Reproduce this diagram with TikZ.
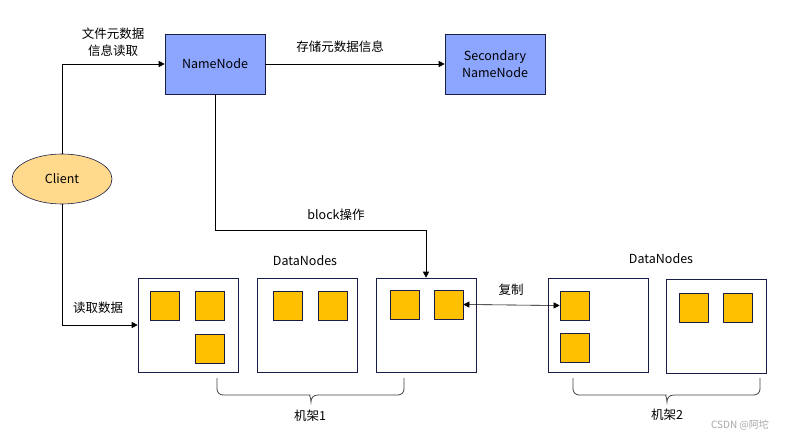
\documentclass[tikz,border=0pt]{standalone}
\usepackage{fontspec}
\setmainfont{Noto Sans CJK SC}
\usepackage{xcolor}
\usepackage{tikz}
\usetikzlibrary{arrows.meta,shapes,positioning,calc}
\definecolor{nnblue}{RGB}{140,165,255}
\definecolor{clientyel}{RGB}{255,217,140}
\definecolor{blockyel}{RGB}{255,192,0}
\definecolor{edgenavy}{RGB}{25,28,70}
\tikzset{
  namebox/.style={draw=edgenavy,fill=nnblue,minimum width=100pt,minimum height=60pt,inner sep=0pt,align=center,font=\fontsize{12.5}{17}\selectfont},
  dnbox/.style={draw=edgenavy,fill=white,minimum width=100pt,minimum height=94pt,inner sep=0pt},
  blk/.style={draw=edgenavy,fill=blockyel,minimum width=29pt,minimum height=29pt,inner sep=0pt},
  lbl/.style={font=\fontsize{12.5}{17}\selectfont,align=center,inner sep=0pt},
  arr/.style={-{Triangle[length=6pt,width=6pt]}},
  rack/.style={draw=black!75,line width=0.8pt}
}
\begin{document}
\begin{tikzpicture}[x=1pt,y=-1pt,line width=0.6pt]
\useasboundingbox (0,0) rectangle (796,441);
% name nodes and client
\node[namebox] (nn) at (215,64) {NameNode}; \node[namebox] (snn) at (495,64) {Secondary\\NameNode};
\node[ellipse,draw=edgenavy,fill=clientyel,minimum width=100pt,minimum height=50pt,inner sep=0pt,font=\fontsize{12.5}{17}\selectfont] (client) at (62,179) {Client};
% data nodes
\node[dnbox] (dn1) at (188,325) {}; \node[dnbox] (dn2) at (307.5,325) {}; \node[dnbox] (dn3) at (426,325) {};
\node[dnbox] (dn4) at (598,325) {}; \node[dnbox] (dn5) at (716,326) {};
% blocks
\node[blk] (b11) at (164.5,305.5) {}; \node[blk] (b12) at (209.5,305.5) {}; \node[blk] (b13) at (209.5,348.5) {};
\node[blk] (b21) at (287.5,305.5) {}; \node[blk] (b22) at (332.5,305.5) {};
\node[blk] (b31) at (404.5,304.5) {}; \node[blk] (b32) at (448.5,304.5) {};
\node[blk] (b41) at (574.5,305.5) {}; \node[blk] (b42) at (574.5,347.5) {};
\node[blk] (b51) at (693.5,307.5) {}; \node[blk] (b52) at (737.5,307.5) {};
% connectors
\coordinate (bend) at (426,230);
\draw[arr] (client.north) |- (nn.west); \draw[arr] (nn.east) -- (snn.west);
\draw[arr] (nn.south) |- (bend) -- (dn3.north);
\draw[arr] (client.south) |- (dn1.west);
\draw[{Triangle[length=6pt,width=6pt]}-{Triangle[length=6pt,width=6pt]}] (b32.east) -- (b41.west);
% labels
\node[lbl] (lread) at (113,42) {文件元数据\\信息读取}; \node[lbl] (lstore) at (340,47) {存储元数据信息};
\node[lbl] (lblock) at (336,215) {block操作}; \node[lbl] (lget) at (98,308) {读取数据};
\node[lbl] (lcopy) at (511,290) {复制};
\node[lbl] (ldn1) at (305,261) {DataNodes}; \node[lbl] (ldn2) at (661,259) {DataNodes};
% racks
\draw[rack] (217,378) [rounded corners=6pt] |- (304,395) [sharp corners] .. controls (309,395) and (311,398) .. (311,402) .. controls (311,398) and (313,395) .. (318,395) [rounded corners=6pt] -| (404,378);
\draw[rack] (573,378) [rounded corners=6pt] |- (660,395) [sharp corners] .. controls (665,395) and (667,398) .. (667,402) .. controls (667,398) and (669,395) .. (674,395) [rounded corners=6pt] -| (760,378);
\node[lbl] (lrack1) at (310,416) {机架1}; \node[lbl] (lrack2) at (667,415) {机架2};
\node[lbl,text=gray!70,font=\fontsize{10}{12}\selectfont] (mark) at (740,425) {CSDN @阿坨};
\end{tikzpicture}
\end{document}
